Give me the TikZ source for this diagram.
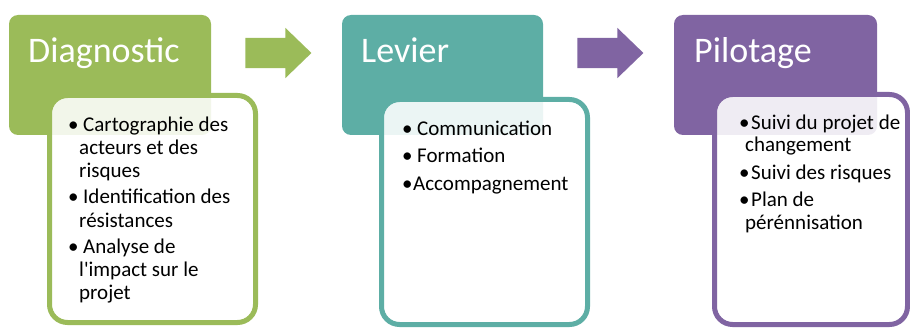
\documentclass[tikz,border=0pt]{standalone}
\usepackage{fontspec}
\newfontfamily\calib{Carlito}
\usetikzlibrary{shapes.arrows}
\definecolor{diaggreen}{RGB}{155,187,89}
\definecolor{leviteal}{RGB}{93,174,165}
\definecolor{pilotpurple}{RGB}{128,100,162}
\tikzset{
  header/.style={rounded corners=9pt, minimum height=120pt, inner sep=0pt},
  title/.style={anchor=base west, text=white, inner sep=0pt, font=\calib\fontsize{36}{42}\selectfont},
  panel/.style={rounded corners=18pt, line width=5pt, fill=white, fill opacity=0.88, draw opacity=1, inner sep=0pt},
  items/.style={anchor=north west, inner sep=0pt, align=left, font=\calib\fontsize{21}{#1}\selectfont},
  flow/.style={single arrow, anchor=west, inner xsep=0pt, inner ysep=15pt, minimum height=66pt,
    single arrow head extend=10pt, single arrow tip angle=88},
}
\newcommand{\blt}[1]{\rule{0pt}{18pt}\makebox[#1][l]{\textbullet}}
\begin{document}
\begin{tikzpicture}[x=1pt,y=1pt]
    \useasboundingbox (0,0) rectangle (910,327);

    % Kopfzeilen
    \node[header, fill=diaggreen, minimum width=202pt] (diaghead) at (110,252) {};
    \node[header, fill=leviteal, minimum width=201pt] (levhead) at (442.5,252) {};
    \node[header, fill=pilotpurple, minimum width=203pt] (pilhead) at (775.5,252) {};

    % Felder
    \node[panel, draw=diaggreen, minimum width=206pt, minimum height=227pt] (diagpanel) at (152.5,118) {};
    \node[panel, draw=leviteal, minimum width=206pt, minimum height=225pt] (levpanel) at (484.5,115) {};
    \node[panel, draw=pilotpurple, minimum width=193pt, minimum height=230pt] (pilpanel) at (811,117.5) {};

    % Titel
    \node[title] (diagtitle) at (28,264) {Diagnostic};
    \node[title] (levtitle) at (361,264) {Levier};
    \node[title] (piltitle) at (694,264) {Pilotage};

    % Listen (erste Grundlinie + 18pt)
    \node[items=23.3pt] (diaglist) at (68,214) {\blt{15pt}Cartographie des\\
        \hspace*{11pt}acteurs et des\\ \hspace*{11pt}risques\\[2.7pt]
        \blt{15pt}Identification des\\ \hspace*{11pt}résistances\\[2.7pt]
        \blt{15pt}Analyse de\\ \hspace*{11pt}l'impact sur le\\ \hspace*{11pt}projet};
    \node[items=23.3pt] (levlist) at (402,210) {\blt{15pt}Communication\\[4.4pt]
        \blt{15pt}Formation\\[4.4pt] \blt{11pt}Accompagnement};
    \node[items=22.5pt] (pillist) at (739,216) {\blt{12pt}Suivi du projet de\\
        \hspace*{6pt}changement\\[5pt] \blt{12pt}Suivi des risques\\[5pt]
        \blt{12pt}Plan de\\ \hspace*{6pt}pérénnisation};

    % Pfeile
    \node[flow, fill=diaggreen] (arrowone) at ([shift={(34,22)}]diaghead.east) {};
    \node[flow, fill=pilotpurple] (arrowtwo) at ([shift={(34,22)}]levhead.east) {};
\end{tikzpicture}
\end{document}
